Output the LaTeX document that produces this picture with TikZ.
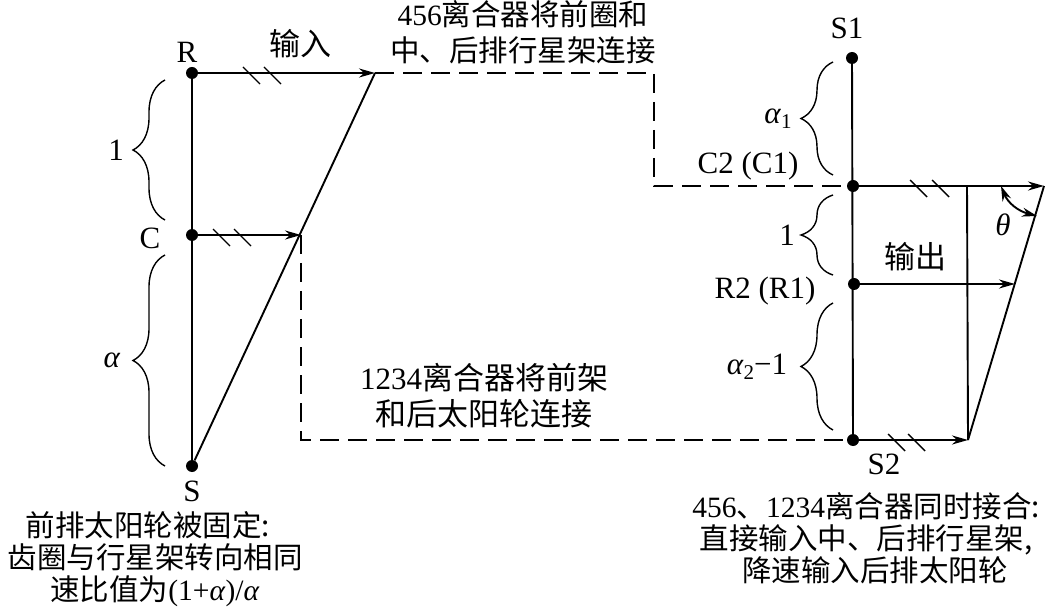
\documentclass[tikz,border=0pt]{standalone}
\usepackage{fontspec}
\setmainfont{Liberation Serif}
\newfontfamily\cjk{Noto Sans CJK SC}
\usetikzlibrary{arrows.meta, decorations.pathreplacing}

\begin{document}
\begin{tikzpicture}[
      x=1pt, y=-1pt,
      lever/.style={line width=1.9pt, black},
      arr/.style={lever, -{Stealth[length=16pt, width=9pt]}},
      dashline/.style={line width=1.6pt, dash pattern=on 19pt off 9pt},
      pin/.style={circle, fill=black, inner sep=0pt, minimum size=12pt},
      tickmark/.style={line width=1.4pt},
      bracel/.style={line width=1.4pt, decorate, decoration={brace, amplitude=32pt}},
      lab/.style={font=\fontsize{31}{36}\selectfont, inner sep=0pt, align=center},
      note/.style={font=\fontsize{29.5}{32}\selectfont, inner sep=0pt, align=center}
    ]
      \useasboundingbox (0,0) rectangle (1046,609);

      % Left lever
      \node[pin] (r) at (192,73) {};
      \node[pin] (c) at (192,235) {};
      \node[pin] (s) at (192,466) {};
      \coordinate (rtip) at (375,73);
      \coordinate (ctip) at (301,235);
      \draw[lever] (r) -- (s);
      \draw[lever] (rtip) -- (s);
      \draw[arr] (r) -- (rtip);
      \draw[arr] (c) -- (ctip);
      \foreach \x in {243,264} \draw[tickmark] (\x,67) -- ++(17,17);
      \foreach \x in {213,234} \draw[tickmark] (\x,229) -- ++(17,17);

      % Right lever
      \node[pin] (s1) at (852,58) {};
      \node[pin] (c2) at (853,186) {};
      \node[pin] (r2) at (854,284) {};
      \node[pin] (s2) at (853,440) {};
      \coordinate (c2tip) at (1044,186);
      \coordinate (r2tip) at (1015,284);
      \coordinate (s2tip) at (968,440);
      \draw[lever] (s1) -- (s2);
      \draw[arr] (c2) -- (c2tip);
      \draw[arr] (r2) -- (r2tip);
      \draw[arr] (s2) -- (s2tip);
      \draw[lever] (c2tip) -- (s2tip);
      \draw[lever] (967,186) -- (s2tip);
      \foreach \x in {910,932} \draw[tickmark] (\x,180) -- ++(17,17);
      \foreach \x in {888,908} \draw[tickmark] (\x,434) -- ++(17,17);

      % Angle mark
      \draw[line width=1.9pt, {Stealth[length=15pt, width=9pt]}-{Stealth[length=15pt, width=9pt]}]
        (1001,186) .. controls (1008,203) and (1018,211) .. (1037,216);

      % Clutter links
      \coordinate (bend1) at (654,73);
      \coordinate (bend2) at (654,186);
      \coordinate (bend3) at (301,440);
      \draw[dashline] (rtip) -- (bend1) -- (bend2) -- (c2);
      \draw[dashline] (ctip) -- (bend3) -- (s2);

      % Braces
      \draw[bracel] (165,220) -- (165,80) node[midway, xshift=-49pt, lab] (one) {1};
      \draw[bracel] (165,466) -- (165,255) node[midway, xshift=-53pt, lab] (alpha) {\textit{α}};
      \draw[bracel] (833,175) -- (833,62) node[midway, xshift=-55pt, lab] (a1) {\textit{α}\raisebox{-5pt}{\fontsize{21}{22}\selectfont 1}};
      \draw[bracel] (833,275) -- (833,195) node[midway, xshift=-46pt, lab] (one2) {1};
      \draw[bracel] (833,430) -- (833,303) node[midway, xshift=-76pt, lab] (a2) {\textit{α}\raisebox{-5pt}{\fontsize{21}{22}\selectfont 2}−1};

      % Labels
      \node[lab] (rlab) at (187,52) {R};
      \node[lab] (clab) at (150,238) {C};
      \node[lab] (slab) at (192,491) {S};
      \node[lab] (s1lab) at (847,28) {S1};
      \node[lab] (s2lab) at (884,464) {S2};
      \node[lab] (c2lab) at (748,166) {C2 (C1)};
      \node[lab] (r2lab) at (765,291) {R2 (R1)};
      \node[lab] (theta) at (1003,225) {\textit{θ}};
      \node[lab] (input) at (300,44) {\cjk 输入};
      \node[lab] (output) at (915,257) {\cjk 输出};
      \node[lab, font=\fontsize{29.5}{36}\selectfont] (top) at (523,32) {456{\cjk 离合器将前圈和}\\{\cjk 中、后排行星架连接}};
      \node[lab] (mid) at (484,396) {1234{\cjk 离合器将前架}\\{\cjk 和后太阳轮连接}};
      \node[note] (notel) at (155,559) {{\cjk 前排太阳轮被固定:}\hspace*{14pt}\\{\cjk 齿圈与行星架转向相同}\\{\cjk 速比值为}(1+\textit{α})/\textit{α}};
      \node[note] (noter) at (866,538) {456{\cjk 、}1234{\cjk 离合器同时接合:}\\{\cjk 直接输入中、后排行星架,}\\\hspace*{18pt}{\cjk 降速输入后排太阳轮}};
    \end{tikzpicture}
\end{document}
